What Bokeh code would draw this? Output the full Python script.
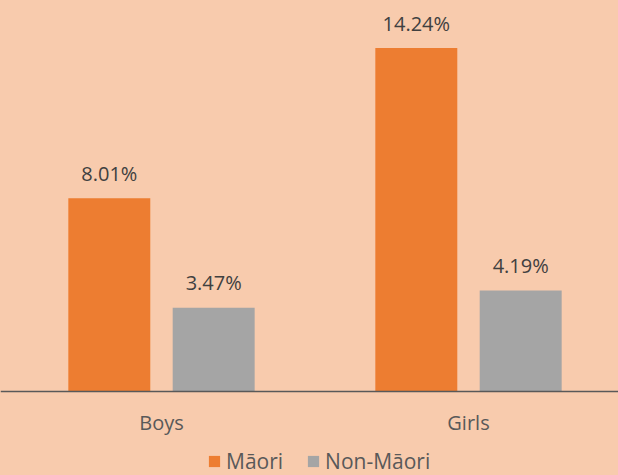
from bokeh.plotting import figure
from bokeh.models import ColumnDataSource, Range1d, FixedTicker, Legend, LegendItem, LinearAxis
from bokeh.core.properties import value
from bokeh.embed import file_html
from bokeh.resources import INLINE
from bokeh.core.templates import get_env

categories = ["Boys", "Girls"]
series_names = ["Māori", "Non-Māori"]
maori = [8.01, 14.24]
non_maori = [3.47, 4.19]
colors = ["#ED7D31", "#A5A5A5"]

BG = "#F8CBAD"
FONT = "Open Sans"

p = figure(width=618, height=475, output_backend="svg", toolbar_location=None,
           x_range=Range1d(-0.5244, 1.4886), y_range=Range1d(-3.4826, 16.21),
           x_axis_location=None, y_axis_location=None,
           min_border_left=0, min_border_right=0, min_border_top=0, min_border_bottom=0)
p.background_fill_color = BG
p.border_fill_color = BG
p.outline_line_color = None
p.grid.visible = False

xs = list(range(len(categories)))
offsets = [-0.17, 0.17]
renderers = []
for vals, off, col, name in zip([maori, non_maori], offsets, colors, series_names):
    src = ColumnDataSource(dict(x=[i + off for i in xs], top=vals,
                                label=[f"{v:.2f}%" for v in vals]))
    r = p.vbar(x="x", top="top", width=0.267, bottom=0, source=src,
               fill_color=col, line_color=None)
    renderers.append((name, r))
    p.text(x="x", y="top", text="label", source=src, text_align="center",
           text_baseline="alphabetic", y_offset=-25, text_font=value(FONT),
           text_font_size="20px", text_color="#404040")

ax = LinearAxis(fixed_location=0)
ax.ticker = FixedTicker(ticks=xs)
ax.major_label_overrides = {i: c for i, c in zip(xs, categories)}
ax.major_tick_line_color = None
ax.minor_tick_line_color = None
ax.major_tick_out = 0
ax.major_tick_in = 0
ax.axis_line_color = "#595959"
ax.axis_line_width = 1.5
ax.major_label_standoff = 18
ax.major_label_text_font = FONT
ax.major_label_text_font_size = "20px"
ax.major_label_text_color = "#595959"
p.add_layout(ax, "below")

legend = Legend(items=[LegendItem(label=n, renderers=[r]) for n, r in renderers],
                orientation="horizontal", location=(207, 0),
                glyph_width=14, glyph_height=14, label_standoff=5, spacing=23,
                padding=0, margin=0, border_line_color=None,
                background_fill_alpha=0, label_text_font=FONT,
                label_text_font_size="21px", label_text_color="#595959",
                label_text_baseline="middle", label_text_line_height=1.0)
p.add_layout(legend, "center")

template = get_env().from_string(
    '{% extends "file.html" %}{% block preamble %}<style>body{background:#F8CBAD;}</style>{% endblock %}')

open("out.html", "w").write(file_html(p, INLINE, template=template))
